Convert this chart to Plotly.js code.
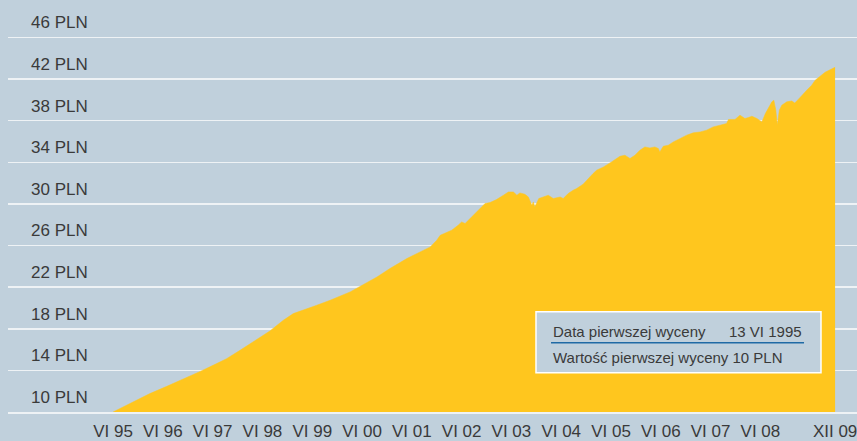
<!DOCTYPE html>
<html>
<head>
<meta charset="utf-8">
<script src="https://cdn.plot.ly/plotly-3.0.1.min.js"></script>
<style>html,body{margin:0;padding:0;background:#c0d0dc;}#chart{width:857px;height:441px;}</style>
</head>
<body>
<div id="chart"></div>
<script>
// Decimal years of valuation
var years = [1995.45,1995.86,1996.19,1996.53,1996.86,1997.2,1997.53,1997.73,1998.0,1998.27,1998.6,1998.87,1999.07,1999.54,1999.81,2000.21,2000.75,2001.01,2001.35,2001.82,2001.95,2002.02,2002.25,2002.38,2002.45,2002.52,2002.62,2002.79,2002.92,2003.02,2003.15,2003.29,2003.39,2003.49,2003.56,2003.62,2003.72,2003.79,2003.86,2003.89,2003.92,2004.0,2004.09,2004.19,2004.29,2004.43,2004.49,2004.59,2004.69,2004.76,2004.89,2004.96,2005.09,2005.16,2005.3,2005.46,2005.63,2005.73,2005.83,2005.93,2006.03,2006.13,2006.23,2006.33,2006.4,2006.43,2006.5,2006.6,2006.7,2006.84,2006.97,2007.1,2007.24,2007.37,2007.5,2007.64,2007.77,2007.81,2007.94,2008.04,2008.14,2008.21,2008.28,2008.38,2008.48,2008.55,2008.61,2008.68,2008.72,2008.76,2008.79,2008.83,2008.88,2008.98,2009.08,2009.14,2009.21,2009.28,2009.38,2009.48,2009.55,2009.75,2009.95];
// Unit value in PLN
var values = [10.0,10.96,11.77,12.47,13.14,13.9,14.65,15.13,15.93,16.73,17.79,18.82,19.46,20.26,20.74,21.54,22.98,23.79,24.75,25.87,26.51,26.99,27.47,27.95,28.27,28.12,28.6,29.43,30.04,30.13,30.42,30.84,31.15,31.15,30.84,31.06,30.93,30.67,29.88,30.19,29.71,30.52,30.67,30.84,30.52,30.67,30.52,31.0,31.32,31.48,31.9,32.28,32.92,33.24,33.56,34.04,34.58,34.68,34.37,34.68,35.16,35.48,35.38,35.48,35.33,35.0,35.55,35.64,35.96,36.29,36.61,36.83,36.92,37.09,37.4,37.57,37.73,38.12,38.12,38.53,38.21,38.31,38.43,38.21,37.88,38.69,39.17,39.81,39.97,39.01,37.57,39.01,39.49,39.81,39.9,39.71,40.04,40.45,40.93,41.41,41.89,42.66,43.14];

var xTickVals = [1995.45,1996.45,1997.45,1998.45,1999.45,2000.45,2001.45,2002.45,2003.45,2004.45,2005.45,2006.45,2007.45,2008.45,2009.95];
var xTickText = ["VI 95","VI 96","VI 97","VI 98","VI 99","VI 00","VI 01","VI 02","VI 03","VI 04","VI 05","VI 06","VI 07","VI 08","XII 09"];
var yTickVals = [10,14,18,22,26,30,34,38,42,46];
var yTickText = ["10 PLN","14 PLN","18 PLN","22 PLN","26 PLN","30 PLN","34 PLN","38 PLN","42 PLN","46 PLN"];

var legendRows = ["Data pierwszej wyceny", "13 VI 1995", "Wartość pierwszej wyceny 10 PLN"];

var font = {family: "Liberation Sans, Arial, sans-serif", size: 17, color: "#3a3a3a"};

var trace = {
  x: years, y: values, type: "scatter", mode: "lines",
  fill: "tozeroy", fillcolor: "#ffc61e",
  line: {color: "#ffc61e", width: 0.5},
  hoverinfo: "skip"
};

var layout = {
  width: 857, height: 441,
  margin: {l: 8, r: 0, t: 0, b: 29},
  paper_bgcolor: "#c0d0dc", plot_bgcolor: "#c0d0dc",
  showlegend: false,
  xaxis: {
    range: [1993.34, 2010.39], tickmode: "array", tickvals: xTickVals, ticktext: xTickText,
    showgrid: false, zeroline: false, ticks: "", showline: true, linecolor: "#eef2f5", linewidth: 1.5,
    tickfont: font, ticklabelstandoff: 3, ticklabeloverflow: "allow", fixedrange: true
  },
  yaxis: {
    range: [10, 49.6], tickmode: "array", tickvals: yTickVals, ticktext: yTickText,
    showgrid: true, gridcolor: "#eef2f5", gridwidth: 1.5, zeroline: false, ticks: "", showline: false,
    ticklabelposition: "inside", ticklabelstandoff: 20, ticklabelshift: -15, ticklabeloverflow: "allow",
    tickfont: font, fixedrange: true
  },
  shapes: [
    {type: "rect", xref: "paper", yref: "paper", x0: 0.6219, x1: 0.9576, y0: 0.0954, y1: 0.2434,
     fillcolor: "#c0d0dc", line: {color: "#ffffff", width: 1.5}},
    {type: "line", xref: "paper", yref: "paper", x0: 0.6396, x1: 0.9376, y0: 0.1682, y1: 0.1682,
     line: {color: "#1f6aa5", width: 1.5}}
  ],
  annotations: [
    {xref: "paper", yref: "paper", x: 0.6396, y: 0.1966, xanchor: "left", yanchor: "middle", showarrow: false,
     text: legendRows[0], font: {family: font.family, size: 15, color: "#3a3a3a"}},
    {xref: "paper", yref: "paper", x: 0.9376, y: 0.1966, xanchor: "right", yanchor: "middle", showarrow: false,
     text: legendRows[1], font: {family: font.family, size: 15, color: "#3a3a3a"}},
    {xref: "paper", yref: "paper", x: 0.6396, y: 0.1311, xanchor: "left", yanchor: "middle", showarrow: false,
     text: legendRows[2], font: {family: font.family, size: 15, color: "#3a3a3a"}}
  ]
};

Plotly.newPlot("chart", [trace], layout, {displayModeBar: false, staticPlot: true});
</script>
</body>
</html>
